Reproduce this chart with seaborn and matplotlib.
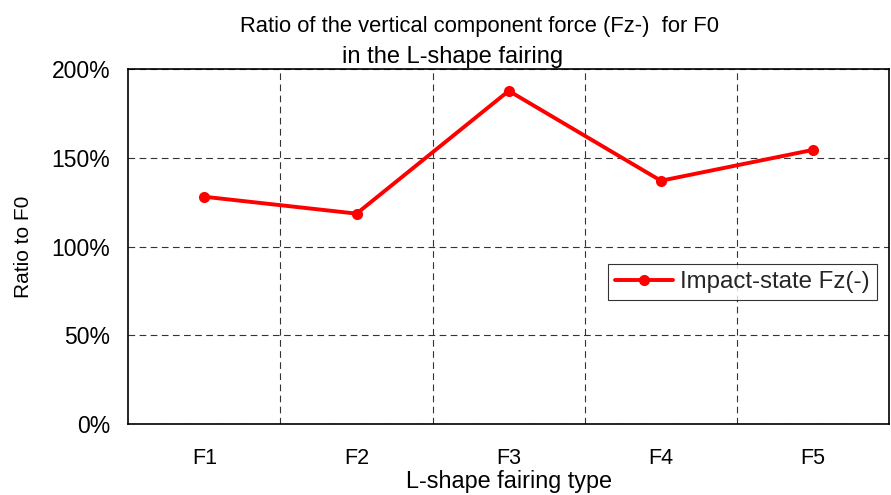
import matplotlib

matplotlib.use("Agg")
import matplotlib.pyplot as plt
import pandas as pd
import seaborn as sns
from matplotlib.ticker import FixedLocator, PercentFormatter

fairing_types = ["F1", "F2", "F3", "F4", "F5"]
ratio_to_f0 = [128.0, 118.5, 187.6, 137.0, 154.4]
series_name = "Impact-state Fz(-)"
title_lines = ["Ratio of the vertical component force (Fz-)  for F0", "in the L-shape fairing"]

sns.set_theme(style="white")
plt.rcParams["font.family"] = ["Liberation Sans", "DejaVu Sans"]
narrow = ["Liberation Sans Narrow", "Liberation Sans", "DejaVu Sans"]

df = pd.DataFrame({"type": fairing_types, "ratio": ratio_to_f0, "series": series_name})

fig, ax = plt.subplots(figsize=(8.91, 4.95), dpi=100)
fig.subplots_adjust(left=0.144, right=0.998, top=0.861, bottom=0.143)

sns.lineplot(data=df, x="type", y="ratio", hue="series", palette=["#ff0000"],
             marker="o", markersize=8, markeredgewidth=0, linewidth=2.8, ax=ax)

ax.set_xlim(-0.5, 4.5)
ax.set_ylim(0, 200)
ax.yaxis.set_major_locator(FixedLocator([0, 50, 100, 150, 200]))
ax.yaxis.set_major_formatter(PercentFormatter(decimals=0))
ax.xaxis.set_minor_locator(FixedLocator([0.5, 1.5, 2.5, 3.5]))
ax.grid(True, axis="y", which="major", linestyle=(0, (6, 4)), color="#333333", linewidth=0.8)
ax.grid(True, axis="x", which="minor", linestyle=(0, (6, 4)), color="#333333", linewidth=0.8)
ax.tick_params(axis="both", which="both", length=0, colors="black")
ax.tick_params(axis="y", labelsize=16.5, pad=13)
ax.tick_params(axis="x", labelsize=15.5, pad=17)
for s in ax.spines.values():
    s.set_color("black")
    s.set_linewidth(1.2)

ax.set_xlabel("L-shape fairing type", fontsize=16.8, labelpad=1, color="black")
ax.set_ylabel("Ratio to F0", fontsize=15, labelpad=13, color="black")

# title: two lines, the second sits a little left of the first
fig.text(479 / 891, 1 - 32 / 495, title_lines[0], ha="center", va="baseline",
         fontsize=15.8, family=narrow, color="black")
fig.text(453 / 891, 1 - 63 / 495, title_lines[1], ha="center", va="baseline",
         fontsize=17, family=narrow, color="black")

ax.legend(loc="center", bbox_to_anchor=(0.807, 0.40), fontsize=17.3, frameon=True,
          fancybox=False, edgecolor="black", handlelength=2.4, borderpad=0.3,
          handletextpad=0.3, borderaxespad=0)
ax.get_legend().get_frame().set_linewidth(0.8)

fig.savefig("out.png", dpi=100)
